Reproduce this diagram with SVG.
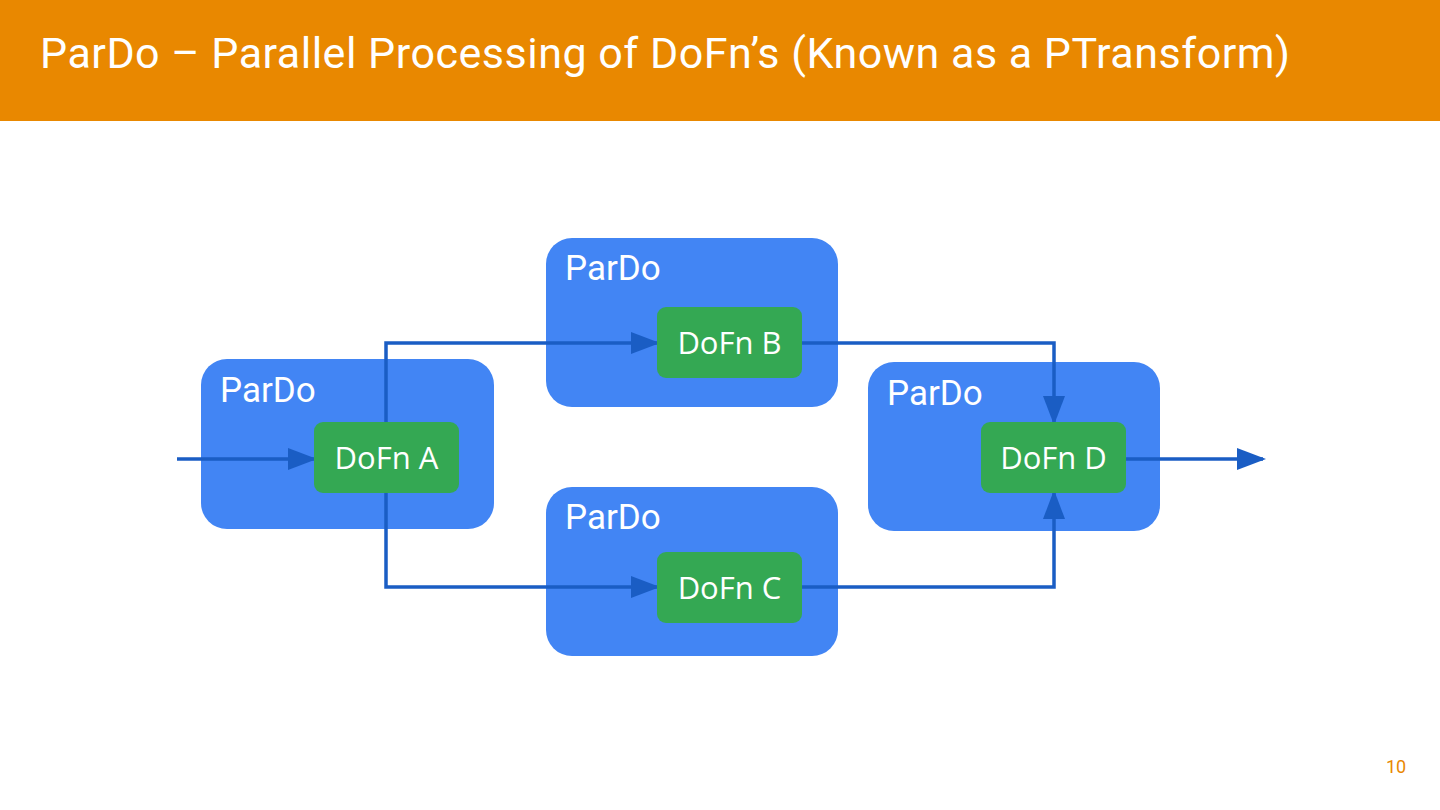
<svg xmlns="http://www.w3.org/2000/svg" width="1440" height="810" viewBox="0 0 1440 810">
<defs>
<style>
.pardo{fill:#4285F4}
.dofn{fill:#34A853}
.lbl{fill:#ffffff}
.pl{font-family:Roboto,"Liberation Sans",sans-serif;font-size:35px}
.dl{font-family:"Open Sans","Noto Sans","Liberation Sans",sans-serif;font-size:31px;text-anchor:middle}
.conn{fill:none;stroke:#1A5DC4;stroke-width:3.5;stroke-linejoin:miter}
</style>
<marker id="ah" markerUnits="userSpaceOnUse" markerWidth="30" markerHeight="24" refX="26" refY="11" orient="auto" viewBox="0 0 30 22">
<path d="M0,0 L29,11 L0,22 Z" fill="#1A5DC4"/>
</marker>
</defs>
<rect width="1440" height="810" fill="#ffffff"/>
<g id="header">
<rect x="0" y="0" width="1440" height="121" fill="#E98800"/>
<text x="40" y="68" font-family="Roboto,'Liberation Sans',sans-serif" font-size="43" fill="#ffffff" textLength="1250" lengthAdjust="spacing">ParDo – Parallel Processing of DoFn’s (Known as a PTransform)</text>
</g>
<g id="pardoA">
<rect class="pardo" x="201" y="359" width="293" height="170" rx="26"/>
<text class="lbl pl" x="220" y="402">ParDo</text>
</g>
<g id="pardoB">
<rect class="pardo" x="546" y="238" width="292" height="169" rx="26"/>
<text class="lbl pl" x="565" y="280">ParDo</text>
</g>
<g id="pardoC">
<rect class="pardo" x="546" y="487" width="292" height="169" rx="26"/>
<text class="lbl pl" x="565" y="529">ParDo</text>
</g>
<g id="pardoD">
<rect class="pardo" x="868" y="362" width="292" height="169" rx="26"/>
<text class="lbl pl" x="887" y="405">ParDo</text>
</g>
<g id="connectors">
<path class="conn" d="M177,459 L314,459" marker-end="url(#ah)"/>
<path class="conn" d="M386,422 L386,343 L657,343" marker-end="url(#ah)"/>
<path class="conn" d="M386,493 L386,587 L657,587" marker-end="url(#ah)"/>
<path class="conn" d="M802,343 L1054,343 L1054,422" marker-end="url(#ah)"/>
<path class="conn" d="M802,587 L1054,587 L1054,493" marker-end="url(#ah)"/>
<path class="conn" d="M1126,459 L1263,459" marker-end="url(#ah)"/>
</g>
<g id="dofnA">
<rect class="dofn" x="314" y="422" width="145" height="71" rx="9"/>
<text class="lbl dl" x="386.5" y="469">DoFn A</text>
</g>
<g id="dofnB">
<rect class="dofn" x="657" y="307" width="145" height="71" rx="9"/>
<text class="lbl dl" x="729.5" y="354">DoFn B</text>
</g>
<g id="dofnC">
<rect class="dofn" x="657" y="552" width="145" height="71" rx="9"/>
<text class="lbl dl" x="729.5" y="599">DoFn C</text>
</g>
<g id="dofnD">
<rect class="dofn" x="981" y="422" width="145" height="71" rx="9"/>
<text class="lbl dl" x="1053.5" y="469">DoFn D</text>
</g>
<text x="1396" y="773" font-family="Roboto,'Liberation Sans',sans-serif" font-size="18" fill="#E98800" text-anchor="middle">10</text>
</svg>
